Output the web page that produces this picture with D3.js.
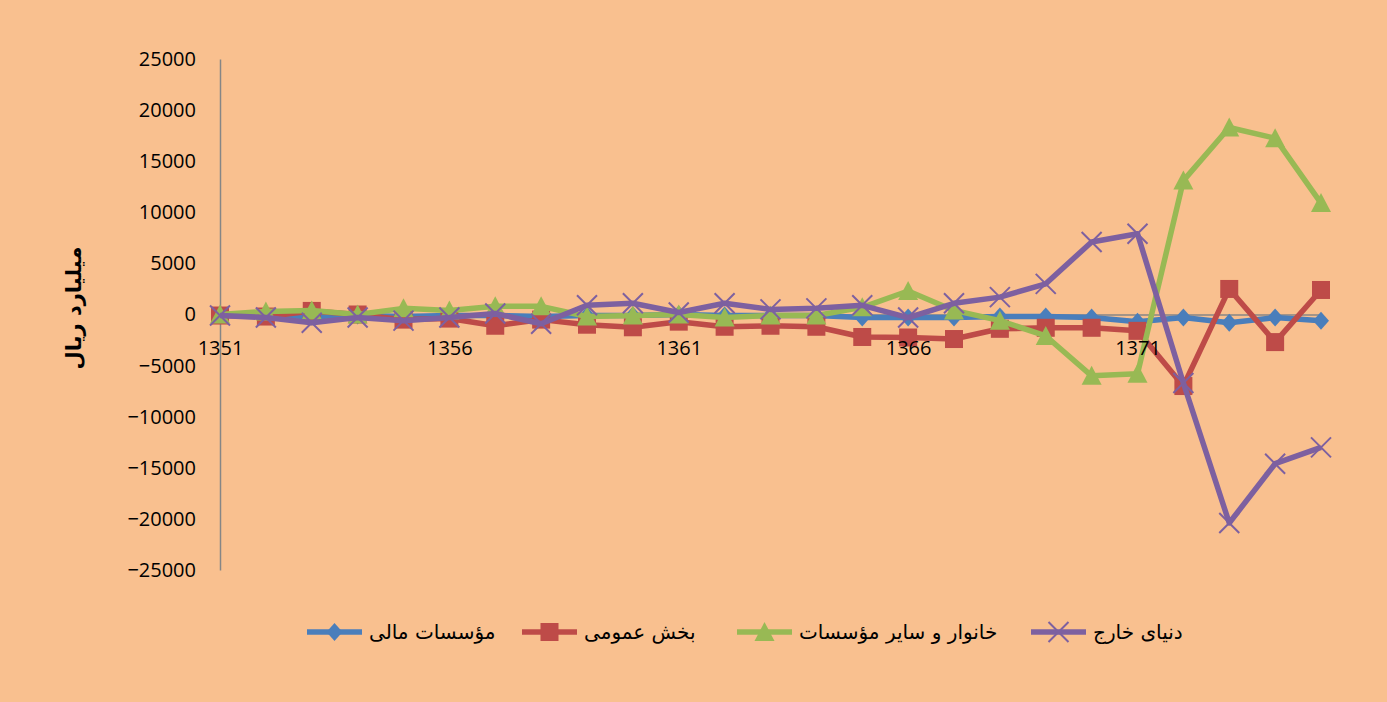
<!DOCTYPE html>
<html>
<head>
<meta charset="utf-8">
<script src="https://cdn.jsdelivr.net/npm/d3@7"></script>
<style>
  body { margin: 0; background: #F9C08F; }
  svg { display: block; }
</style>
</head>
<body>
<div id="chart"></div>
<script>
// Years on the category axis
const years = d3.range(1351, 1376);
const yearTicks = [1351, 1356, 1361, 1366, 1371];
const yTicks = [25000, 20000, 15000, 10000, 5000, 0, -5000, -10000, -15000, -20000, -25000];

// Series values (billion rials)
const financial = [0, -100, -200, -100, -200, -100, -100, -200, -100, -100, 0, -100, -100, -100, -300, -300, -300, -200, -200, -300, -700, -300, -800, -300, -600];
const publicSector = [-100, -200, 350, 0, -500, -400, -1100, -500, -1000, -1250, -700, -1200, -1100, -1200, -2200, -2250, -2400, -1400, -1300, -1300, -1600, -7000, 2500, -2700, 2400];
const households = [0, 300, 400, 0, 600, 400, 800, 800, -200, -100, 0, -300, -100, -100, 700, 2300, 400, -600, -2100, -6000, -5800, 13100, 18300, 17250, 10900];
const foreign = [-100, -300, -800, -300, -600, -300, 100, -900, 900, 1100, 200, 1100, 500, 600, 900, -300, 1100, 1700, 3000, 7100, 7900, -6700, -20400, -14600, -13000];

const seriesNames = ["مؤسسات مالی", "بخش عمومی", "خانوار و سایر مؤسسات", "دنیای خارج"];
const yTitle = "میلیارد ریال";

const series = [
    {name: seriesNames[0], values: financial, color: "#4A7EBB", marker: "diamond"},
    {name: seriesNames[1], values: publicSector, color: "#BE4B48", marker: "square"},
    {name: seriesNames[2], values: households, color: "#98B954", marker: "triangle"},
    {name: seriesNames[3], values: foreign, color: "#7D60A0", marker: "cross"}
];

const W = 1387, H = 702;
const svg = d3.select("#chart").append("svg")
    .attr("width", W)
    .attr("height", H);

svg.append("rect")
    .attr("width", W).attr("height", H)
    .attr("fill", "#F9C08F");

const x = d3.scalePoint()
    .domain(years)
    .range([220, 1321]);

const y = d3.scaleLinear()
    .domain([-25000, 25000])
    .range([570, 59]);

const font = "'Open Sans', 'DejaVu Sans', sans-serif";

// Y axis
const yAxis = svg.append("g")
    .attr("transform", "translate(220,0)")
    .call(d3.axisLeft(y).tickValues(yTicks).tickSize(0).tickPadding(24).tickFormat(d3.format("d")));
yAxis.select(".domain").attr("stroke", "#868686").attr("stroke-width", 1.5);
yAxis.selectAll("text")
    .style("font-family", font)
    .style("font-size", "20px")
    .attr("fill", "#000");

// X axis line at zero (labels are drawn later, on top of the lines)
const xAxisLine = svg.append("g")
    .attr("transform", `translate(0,${y(0)})`)
    .call(d3.axisBottom(x).tickValues([]).tickSize(0));
xAxisLine.select(".domain").attr("stroke", "#868686").attr("stroke-width", 1.5);

// Y axis title
svg.append("text")
    .attr("transform", "translate(81,308) rotate(-90)")
    .attr("text-anchor", "middle")
    .style("font-family", "'DejaVu Sans', sans-serif")
    .style("font-size", "21px")
    .style("font-weight", "bold")
    .attr("direction", "rtl")
    .text(yTitle);

// Marker drawing
function drawMarker(g, type, color) {
    if (type === "diamond") {
        g.append("path").attr("d", "M0,-9L8,0L0,9L-8,0Z").attr("fill", color);
    } else if (type === "square") {
        g.append("rect").attr("x", -9).attr("y", -9).attr("width", 18).attr("height", 18).attr("fill", color);
    } else if (type === "triangle") {
        g.append("path").attr("d", "M0,-10L10,9L-10,9Z").attr("fill", color);
    } else {
        g.append("path").attr("d", "M-10,-10L10,10M-10,10L10,-10")
            .attr("stroke", color).attr("stroke-width", 2).attr("fill", "none");
    }
}

const line = d3.line()
    .x((d, i) => x(years[i]))
    .y(d => y(d));

series.forEach(function(s) {
    const g = svg.append("g");
    g.append("path")
        .datum(s.values)
        .attr("fill", "none")
        .attr("stroke", s.color)
        .attr("stroke-width", 5.5)
        .attr("stroke-linejoin", "round")
        .attr("d", line);
    s.values.forEach(function(v, i) {
        const m = g.append("g").attr("transform", `translate(${x(years[i])},${y(v)})`);
        drawMarker(m, s.marker, s.color);
    });
});

// X axis labels, on top of the series
const xAxis = svg.append("g")
    .attr("transform", `translate(0,${y(0)})`)
    .call(d3.axisBottom(x).tickValues(yearTicks).tickSize(0).tickPadding(26));
xAxis.select(".domain").remove();
xAxis.selectAll("text")
    .style("font-family", font)
    .style("font-size", "20px")
    .attr("fill", "#000");

// Legend (right to left order as in the picture)
const legendX = [307, 522, 737, 1031];
series.forEach(function(s, i) {
    const g = svg.append("g").attr("transform", `translate(${legendX[i]},632)`);
    g.append("line")
        .attr("x1", 0).attr("x2", 55)
        .attr("stroke", s.color).attr("stroke-width", 5.5);
    drawMarker(g.append("g").attr("transform", "translate(27.5,0)"), s.marker, s.color);
    g.append("text")
        .attr("x", 62)
        .attr("y", 0)
        .attr("dy", "0.35em")
        .attr("text-anchor", "end")
        .attr("direction", "rtl")
        .style("font-family", "'DejaVu Sans', sans-serif")
        .style("font-size", "20px")
        .text(s.name);
});
</script>
</body>
</html>
